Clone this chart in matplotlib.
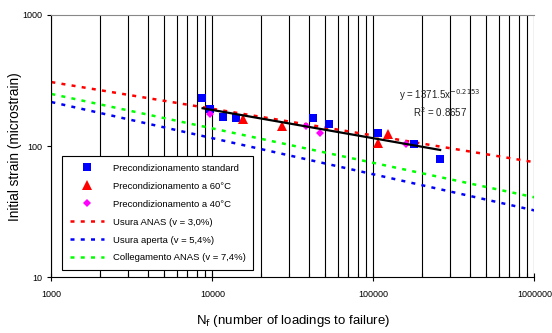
import matplotlib
matplotlib.use("Agg")
import matplotlib.pyplot as plt
from matplotlib.ticker import FixedLocator, NullFormatter

plt.rcParams["font.family"] = ["Liberation Sans", "DejaVu Sans"]

# measured points
std_n = [8600, 9680, 11570, 13970, 41900, 53300, 106200, 178200, 259600]
std_e = [232, 191, 167.4, 163.6, 165.3, 146.7, 125.7, 104.7, 80.0]
t60_n = [15450, 26980, 106400, 123900]
t60_e = [160.2, 141.6, 105, 123]
t40_n = [9680, 37930, 46660, 159600]
t40_e = [175.5, 142.9, 125.7, 103.2]

# reference curves (end points)
curve_n = [1000, 1000000]
anas_e = [308, 75.5]
aperta_e = [217, 32.4]
colleg_e = [250, 40.8]

# trend line of the measured data
trend_n = [8700, 260000]
trend_e = [194.6, 93.6]

fig = plt.figure(figsize=(5.52, 3.33), dpi=100)
ax = fig.add_axes([0.093, 0.167, 0.875, 0.788])
ax.set_xscale("log")
ax.set_yscale("log")
ax.set_xlim(1000, 1000000)
ax.set_ylim(10, 1000)

# vertical grid at every decade step
grid_x = [m * 10**k for k in range(3, 6) for m in range(1, 10)] + [1000000]
for gx in grid_x:
    ax.axvline(gx, color="black", lw=0.8, zorder=0)

dots = (0, (1.6, 2.5))
ax.plot(curve_n, anas_e, color="#ff0000", lw=1.8, ls=dots, label="Usura ANAS (v = 3,0%)", zorder=2)
ax.plot(curve_n, aperta_e, color="#0000ff", lw=1.8, ls=dots, label="Usura aperta (v = 5,4%)", zorder=2)
ax.plot(curve_n, colleg_e, color="#00ff00", lw=1.8, ls=dots, label="Collegamento ANAS (v = 7,4%)", zorder=2)

ax.plot(std_n, std_e, "s", color="#0000ff", ms=5.5, mew=0, label="Precondizionamento standard", zorder=3)
ax.plot(t60_n, t60_e, "^", color="#ff0000", ms=6.5, mew=0, label="Precondizionamento a 60°C", zorder=3)
ax.plot(t40_n, t40_e, "D", color="#ff00ff", ms=4.5, mew=0, label="Precondizionamento a 40°C", zorder=3)
ax.plot(trend_n, trend_e, color="black", lw=1.6, zorder=4)

fig.text(440 / 552, 1 - 95 / 333, "y = 1371.5x$^{-0.2153}$", fontsize=7,
         ha="center", va="center", color="#222222")
fig.text(440 / 552, 1 - 112 / 333, "R$^2$ = 0.8657", fontsize=7,
         ha="center", va="center", color="#222222")

h, l = ax.get_legend_handles_labels()
order = [3, 4, 5, 0, 1, 2]
leg = ax.legend([h[i] for i in order], [l[i] for i in order], loc="lower left",
                bbox_to_anchor=(0.022, 0.028), borderaxespad=0, fontsize=6.8,
                frameon=True, fancybox=False, edgecolor="black", framealpha=1,
                handlelength=3.7, borderpad=0.8, labelspacing=0.95,
                handletextpad=0.9)
leg.get_frame().set_linewidth(0.8)

ax.xaxis.set_major_locator(FixedLocator([1000, 10000, 100000, 1000000]))
ax.xaxis.set_minor_locator(FixedLocator([g for g in grid_x if g not in (1000, 10000, 100000, 1000000)]))
ax.xaxis.set_minor_formatter(NullFormatter())
ax.set_xticklabels(["1000", "10000", "100000", "1000000"])
ax.yaxis.set_major_locator(FixedLocator([10, 100, 1000]))
ax.yaxis.set_minor_locator(FixedLocator([]))
ax.set_yticklabels(["10", "100", "1000"])
ax.tick_params(axis="x", which="major", direction="inout", length=6, width=0.8, labelsize=6.5, pad=6)
ax.tick_params(axis="x", which="minor", direction="in", length=3, width=0.8)
ax.tick_params(axis="y", which="major", direction="out", length=3, width=0.8, labelsize=6.5)

ax.spines["top"].set_color("#888888")
ax.spines["right"].set_visible(False)
ax.spines["left"].set_linewidth(0.8)
ax.spines["bottom"].set_linewidth(0.8)

ax.set_xlabel("N$_\\mathrm{f}$ (number of loadings to failure)", fontsize=9.5, labelpad=10)
ax.set_ylabel("Initial strain (microstrain)", fontsize=9.8, labelpad=0)

fig.savefig("out.png", dpi=100)
